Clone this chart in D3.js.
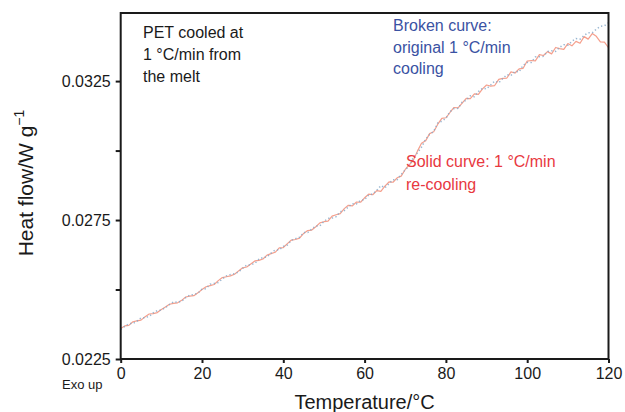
<!DOCTYPE html>
<html>
<head>
<meta charset="utf-8">
<script src="https://cdn.jsdelivr.net/npm/d3@7/dist/d3.min.js"></script>
<style>
  html, body { margin: 0; padding: 0; background: #fff; }
  svg { display: block; font-family: "Liberation Sans", Arial, sans-serif; }
</style>
</head>
<body>
<svg id="chart" width="625" height="412"></svg>
<script>
// Temperature axis (°C), one reading per degree
const temperature = d3.range(0, 121, 1);

// Solid curve: 1 °C/min re-cooling (W/g)
const recooling = [
  0.02360, 0.02369, 0.02371, 0.02384, 0.02387, 0.02390, 0.02402, 0.02412, 0.02413, 0.02417,
  0.02428, 0.02437, 0.02447, 0.02450, 0.02452, 0.02461, 0.02473, 0.02476, 0.02478, 0.02488,
  0.02500, 0.02510, 0.02514, 0.02518, 0.02532, 0.02543, 0.02546, 0.02549, 0.02555, 0.02567,
  0.02578, 0.02581, 0.02592, 0.02603, 0.02605, 0.02610, 0.02624, 0.02629, 0.02634, 0.02650,
  0.02651, 0.02665, 0.02678, 0.02680, 0.02685, 0.02702, 0.02712, 0.02714, 0.02726, 0.02740,
  0.02744, 0.02746, 0.02764, 0.02769, 0.02773, 0.02791, 0.02803, 0.02801, 0.02815, 0.02814,
  0.02830, 0.02843, 0.02841, 0.02856, 0.02853, 0.02872, 0.02887, 0.02886, 0.02902, 0.02908,
  0.02932, 0.02949, 0.02965, 0.02998, 0.03026, 0.03035, 0.03061, 0.03068, 0.03095, 0.03116,
  0.03118, 0.03137, 0.03155, 0.03154, 0.03171, 0.03188, 0.03187, 0.03204, 0.03202, 0.03222,
  0.03236, 0.03232, 0.03234, 0.03256, 0.03260, 0.03261, 0.03283, 0.03279, 0.03294, 0.03296,
  0.03322, 0.03324, 0.03323, 0.03345, 0.03342, 0.03356, 0.03348, 0.03371, 0.03367, 0.03364,
  0.03385, 0.03377, 0.03393, 0.03386, 0.03410, 0.03401, 0.03421, 0.03411, 0.03391, 0.03390,
  0.03370
];

// Broken curve: original 1 °C/min cooling (W/g)
const originalCooling = [
  0.02357, 0.02367, 0.02377, 0.02378, 0.02386, 0.02398, 0.02399, 0.02403, 0.02416, 0.02424,
  0.02426, 0.02435, 0.02446, 0.02456, 0.02454, 0.02458, 0.02471, 0.02480, 0.02482, 0.02487,
  0.02501, 0.02503, 0.02519, 0.02522, 0.02525, 0.02538, 0.02549, 0.02554, 0.02557, 0.02563,
  0.02576, 0.02588, 0.02589, 0.02594, 0.02609, 0.02615, 0.02617, 0.02631, 0.02642, 0.02643,
  0.02655, 0.02660, 0.02677, 0.02683, 0.02688, 0.02705, 0.02705, 0.02718, 0.02729, 0.02729,
  0.02745, 0.02756, 0.02757, 0.02762, 0.02780, 0.02784, 0.02797, 0.02809, 0.02808, 0.02821,
  0.02823, 0.02840, 0.02844, 0.02857, 0.02874, 0.02866, 0.02881, 0.02895, 0.02895, 0.02914,
  0.02931, 0.02944, 0.02976, 0.02992, 0.03012, 0.03041, 0.03058, 0.03069, 0.03099, 0.03106,
  0.03116, 0.03140, 0.03151, 0.03152, 0.03174, 0.03181, 0.03197, 0.03194, 0.03212, 0.03224,
  0.03222, 0.03236, 0.03250, 0.03244, 0.03259, 0.03273, 0.03270, 0.03285, 0.03283, 0.03307,
  0.03317, 0.03317, 0.03337, 0.03338, 0.03339, 0.03356, 0.03359, 0.03357, 0.03372, 0.03381,
  0.03379, 0.03393, 0.03403, 0.03401, 0.03414, 0.03424, 0.03424, 0.03437, 0.03447, 0.03449,
  0.03460
];

const xTicks = [0, 20, 40, 60, 80, 100, 120];
const yTicks = [0.0225, 0.025, 0.0275, 0.03, 0.0325];
const yTickLabels = ["0.0225", "", "0.0275", "", "0.0325"];

const svg = d3.select("#chart");
const plot = { left: 120.7, right: 608.5, top: 13, bottom: 359 };

const x = d3.scaleLinear().domain([0, 120]).range([plot.left, plot.right]);
const y = d3.scaleLinear().domain([0.0225, 0.03495]).range([plot.bottom, plot.top]);

// Curves, clipped to the plot frame
svg.append("clipPath").attr("id", "plotClip")
  .append("rect")
  .attr("x", plot.left).attr("y", plot.top)
  .attr("width", plot.right - plot.left).attr("height", plot.bottom - plot.top);

const line = d3.line()
  .x((d, i) => x(temperature[i]))
  .y(d => y(d));

const curves = svg.append("g").attr("clip-path", "url(#plotClip)");

curves.append("path")
  .datum(recooling)
  .attr("fill", "none")
  .attr("stroke", "#f2876f")
  .attr("stroke-width", 1.2)
  .attr("stroke-linejoin", "round")
  .attr("opacity", 0.8)
  .attr("d", line);

curves.append("path")
  .datum(originalCooling)
  .attr("fill", "none")
  .attr("stroke", "#86a9c9")
  .attr("stroke-width", 1.5)
  .attr("stroke-dasharray", "1.3,2.4")
  .attr("opacity", 0.85)
  .attr("d", line);

// Frame
svg.append("rect")
  .attr("x", plot.left).attr("y", plot.top)
  .attr("width", plot.right - plot.left).attr("height", plot.bottom - plot.top)
  .attr("fill", "none")
  .attr("stroke", "#1a1a1a")
  .attr("stroke-width", 2);

// Axes
const xAxis = d3.axisBottom(x).tickValues(xTicks).tickSize(4).tickPadding(5)
  .tickFormat(d3.format("d"));
const gx = svg.append("g").attr("transform", `translate(0,${plot.bottom})`).call(xAxis);

const yAxis = d3.axisLeft(y).tickValues(yTicks).tickSize(5).tickPadding(5)
  .tickFormat((d, i) => yTickLabels[i]);
const gy = svg.append("g").attr("transform", `translate(${plot.left},0)`).call(yAxis);

[gx, gy].forEach(g => {
  g.select(".domain").remove();
  g.selectAll(".tick line").attr("stroke", "#1a1a1a").attr("stroke-width", 2);
  g.selectAll(".tick text")
    .attr("fill", "#1a1a1a")
    .style("font-size", "16px")
    .style("font-family", "'Liberation Sans', Arial, sans-serif");
});

// Axis titles
svg.append("text")
  .attr("x", (plot.left + plot.right) / 2)
  .attr("y", 409)
  .attr("text-anchor", "middle")
  .attr("fill", "#1a1a1a")
  .style("font-size", "20px")
  .text("Temperature/°C");

const yTitle = svg.append("text")
  .attr("transform", `translate(33,${(plot.top + plot.bottom) / 2 - 3}) rotate(-90)`)
  .attr("text-anchor", "middle")
  .attr("fill", "#1a1a1a")
  .style("font-size", "21px");
yTitle.append("tspan").text("Heat flow/W g");
yTitle.append("tspan").attr("dy", -9).style("font-size", "14px").text("−1");

svg.append("text")
  .attr("x", 62).attr("y", 389)
  .attr("fill", "#1a1a1a")
  .style("font-size", "13px")
  .text("Exo up");

// Annotations
function block(lines, x0, y0, step, color) {
  const t = svg.append("text").attr("fill", color).style("font-size", "16px");
  lines.forEach((s, i) => {
    t.append("tspan").attr("x", x0).attr("y", y0 + i * step).text(s);
  });
}

block(["PET cooled at", "1 °C/min from", "the melt"], 143, 38, 22, "#1a1a1a");
block(["Broken curve:", "original 1 °C/min", "cooling"], 393, 31, 21.7, "#3a52a3");
block(["Solid curve: 1 °C/min", "re-cooling"], 406, 167, 23, "#e8393f");
</script>
</body>
</html>
